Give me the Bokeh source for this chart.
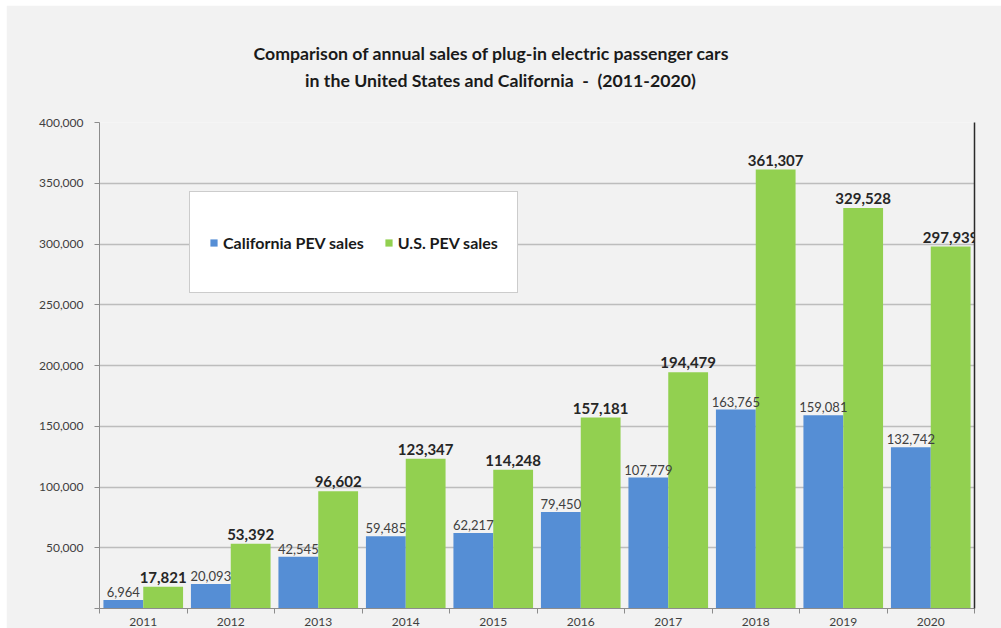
from bokeh.plotting import figure
from bokeh.models import (ColumnDataSource, FixedTicker, NumeralTickFormatter, Legend,
                          LegendItem, LinearAxis, Title, Range1d)
from bokeh.transform import dodge
from bokeh.core.properties import value
from bokeh.embed import file_html
from bokeh.resources import INLINE

years = ["2011", "2012", "2013", "2014", "2015", "2016", "2017", "2018", "2019", "2020"]
california = [6964, 20093, 42545, 59485, 62217, 79450, 107779, 163765, 159081, 132742]
us_sales = [17821, 53392, 96602, 123347, 114248, 157181, 194479, 361307, 329528, 297939]
y_ticks = [0, 50000, 100000, 150000, 200000, 250000, 300000, 350000, 400000]
title_lines = ["Comparison of annual sales of plug-in electric passenger cars",
               "\u00a0" * 12 + "in the United States and California \u00a0-\u00a0 (2011-2020)"]

FONT = "Lato"
BLUE = "#558ed5"
GREEN = "#92d050"
BG = "#f2f2f2"

pos = [i + 0.5 for i in range(len(years))]
src = ColumnDataSource(dict(
    x=pos, ca=california, us=us_sales,
    ca_lbl=[f"{v:,}" for v in california],
    us_lbl=[f"{v:,}" for v in us_sales],
))

p = figure(width=995, height=623, x_range=Range1d(0, len(years)), y_range=Range1d(0, 400000),
           output_backend="svg", toolbar_location=None,
           min_border_left=93, min_border_right=27, min_border_top=117, min_border_bottom=18,
           background_fill_color=BG, border_fill_color=BG)
p.margin = (5, 0, 0, 6)
p.outline_line_color = None

p.title = Title(text="\n".join(title_lines), align="left", offset=154, standoff=62,
                text_font=FONT, text_font_size="17.7px", text_font_style="bold",
                text_color="#1a1a1a", text_line_height=1.3)

w = 0.455
r_ca = p.vbar(x=dodge("x", -w / 2), top="ca", width=w, source=src, fill_color=BLUE, line_color=None)
r_us = p.vbar(x=dodge("x", w / 2), top="us", width=w, source=src, fill_color=GREEN, line_color=None)

p.text(x=dodge("x", -w / 2), y="ca", text="ca_lbl", source=src, text_align="center",
       text_baseline="bottom", y_offset=-3, text_font=value(FONT), text_font_size="13px",
       text_color="#404040")
p.text(x=dodge("x", w / 2), y="us", text="us_lbl", source=src, text_align="center",
       text_baseline="bottom", y_offset=-4, text_font=value(FONT), text_font_size="15px",
       text_font_style="bold", text_color="#262626")

# y axis
p.yaxis.ticker = FixedTicker(ticks=y_ticks)
p.yaxis.formatter = NumeralTickFormatter(format="0,0")
p.yaxis.major_label_overrides = {0: ""}
p.yaxis.major_label_text_font = FONT
p.yaxis.major_label_text_font_size = "12px"
p.yaxis.major_label_text_color = "#404040"
p.yaxis.axis_line_color = "#8c8c8c"
p.yaxis.major_tick_line_color = "#8c8c8c"
p.yaxis.major_tick_out = 5
p.yaxis.major_tick_in = 0
p.yaxis.minor_tick_line_color = None
p.yaxis.major_label_standoff = 11

# x axis: labels at centres, ticks at category boundaries
p.xaxis.ticker = FixedTicker(ticks=pos, minor_ticks=list(range(len(years) + 1)))
p.xaxis.major_label_overrides = {x: y for x, y in zip(pos, years)}
p.xaxis.major_tick_line_color = None
p.xaxis.minor_tick_line_color = "#8c8c8c"
p.xaxis.minor_tick_out = 5
p.xaxis.minor_tick_in = 0
p.xaxis.axis_line_color = "#8c8c8c"
p.xaxis.major_label_text_font = FONT
p.xaxis.major_label_text_font_size = "12px"
p.xaxis.major_label_text_color = "#404040"
p.xaxis.major_label_standoff = 3

p.xgrid.grid_line_color = None
p.ygrid.grid_line_color = "#bdbdbd"
p.ygrid.grid_line_width = 1.3

right = LinearAxis(ticker=FixedTicker(ticks=[]), major_label_text_font_size="0px",
                   axis_line_color="#2a2a2a", axis_line_width=1.5,
                   major_tick_line_color=None, minor_tick_line_color=None)
p.add_layout(right, "right")

legend = Legend(items=[LegendItem(label="California PEV sales", renderers=[r_ca]),
                       LegendItem(label="U.S. PEV sales", renderers=[r_us])],
                orientation="horizontal", location=(90, 315),
                label_text_font=FONT, label_text_font_size="16px", label_text_font_style="bold",
                label_text_color="#1a1a1a", glyph_width=9, glyph_height=9, label_standoff=5,
                spacing=20, padding=19, label_height=62,
                background_fill_color="white", background_fill_alpha=1.0,
                border_line_color="#9a9a9a", border_line_width=1.5)
p.add_layout(legend)

open("out.html", "w").write(file_html(p, INLINE))
